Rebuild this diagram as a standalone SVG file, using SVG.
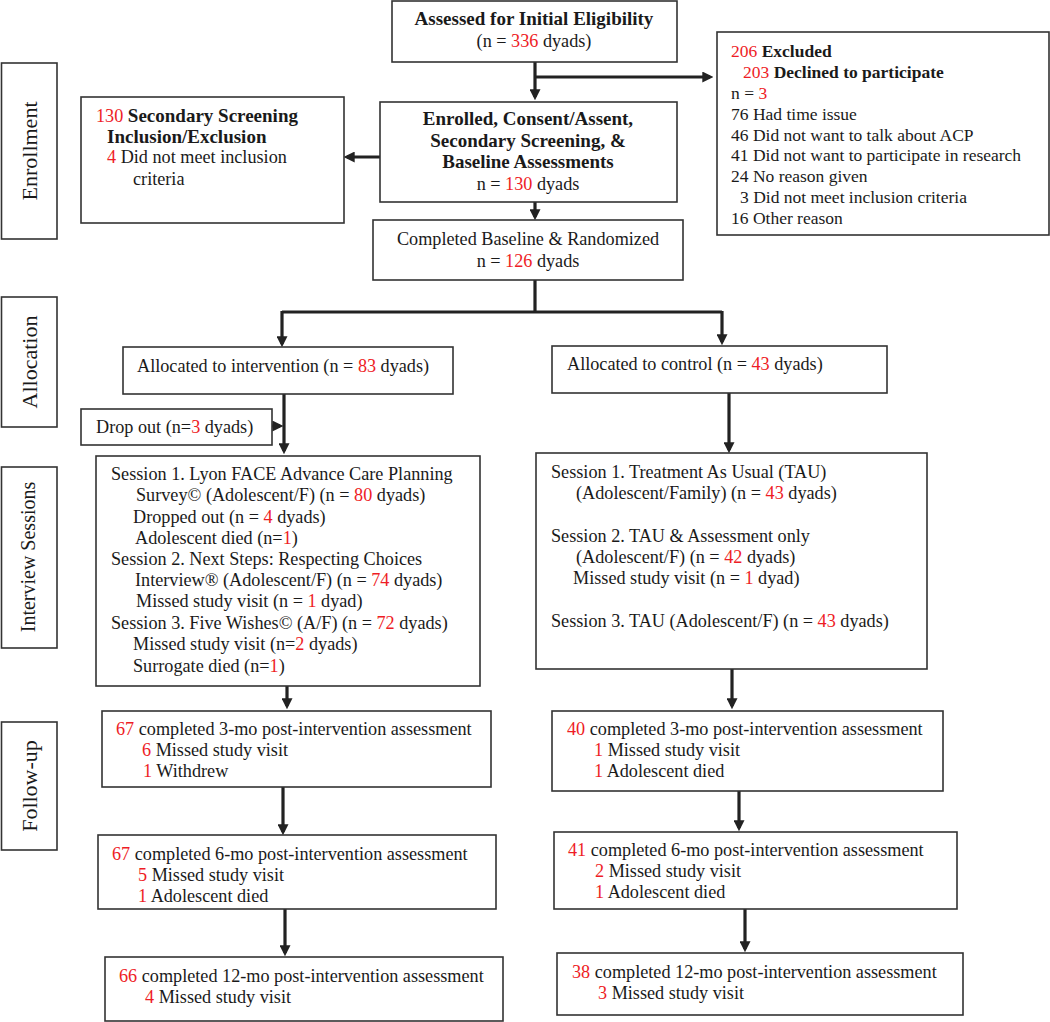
<svg xmlns="http://www.w3.org/2000/svg" width="1050" height="1022" viewBox="0 0 1050 1022">
<style>
text{font-family:"Liberation Serif","Times New Roman",serif;font-size:18.2px;fill:#1a1a1a}
.b{font-weight:bold}
.bb{font-weight:bold;font-size:19px}
.r{fill:#ee1c25}
.box{fill:#fff;stroke:#333;stroke-width:1.6}
.lbl{font-size:22px}
.c{text-anchor:middle}
.con{fill:none;stroke:#222;stroke-width:3.2;stroke-linecap:butt}
.ex{font-size:17.5px}
</style>
<defs>
<marker id="ah" viewBox="0 0 10 10" refX="7" refY="5" markerWidth="11" markerHeight="11" markerUnits="userSpaceOnUse" orient="auto">
<path d="M0,0 L10,5 L0,10 z" fill="#222"/>
</marker>
</defs>
<rect width="1050" height="1022" fill="#fff"/>

<g id="connectors">
<path class="con" d="M535,62 V97" marker-end="url(#ah)"/>
<path class="con" d="M535,77 H710" marker-end="url(#ah)"/>
<path class="con" d="M380,157 H347" marker-end="url(#ah)"/>
<path class="con" d="M535,202 V217" marker-end="url(#ah)"/>
<path class="con" d="M535,280 V312 M282,312 H722"/>
<path class="con" d="M282,311 V344" marker-end="url(#ah)"/>
<path class="con" d="M722,311 V342" marker-end="url(#ah)"/>
<path class="con" d="M284,394 V451" marker-end="url(#ah)"/>
<path class="con" d="M263,426 H280" marker-end="url(#ah)"/>
<path class="con" d="M729,393 V450" marker-end="url(#ah)"/>
<path class="con" d="M287,686 V706" marker-end="url(#ah)"/>
<path class="con" d="M283,787 V832" marker-end="url(#ah)"/>
<path class="con" d="M285,909 V953" marker-end="url(#ah)"/>
<path class="con" d="M732,669 V706" marker-end="url(#ah)"/>
<path class="con" d="M739,791 V828" marker-end="url(#ah)"/>
<path class="con" d="M745,909 V949" marker-end="url(#ah)"/>
</g>

<g id="label-enrollment">
<rect class="box" x="1.5" y="63" width="55.5" height="176"/>
<text class="lbl c" transform="translate(37,151) rotate(-90)">Enrollment</text>
</g>
<g id="label-allocation">
<rect class="box" x="1.5" y="297" width="55.5" height="130"/>
<text class="lbl c" transform="translate(37,362) rotate(-90)">Allocation</text>
</g>
<g id="label-interview">
<rect class="box" x="1.5" y="467" width="55.5" height="181"/>
<text class="lbl c" style="font-size:20px" transform="translate(35,557) rotate(-90)">Interview Sessions</text>
</g>
<g id="label-followup">
<rect class="box" x="1.5" y="722" width="55.5" height="128"/>
<text class="lbl c" transform="translate(37,786) rotate(-90)">Follow-up</text>
</g>

<g id="assessed">
<rect class="box" x="392" y="1" width="285" height="61"/>
<text class="bb c" x="534" y="25">Assessed for Initial Eligibility</text>
<text class="c" x="534" y="47">(n = <tspan class="r">336</tspan> dyads)</text>
</g>

<g id="excluded">
<rect class="box" x="717" y="32" width="332" height="203"/>
<text class="ex" x="731" y="57"><tspan class="r">206</tspan> <tspan class="b">Excluded</tspan></text>
<text class="ex" x="743" y="78"><tspan class="r">203</tspan> <tspan class="b">Declined to participate</tspan></text>
<text class="ex" x="731" y="99">n = <tspan class="r">3</tspan></text>
<text class="ex" x="731" y="120">76 Had time issue</text>
<text class="ex" x="731" y="141">46 Did not want to talk about ACP</text>
<text class="ex" x="731" y="161">41 Did not want to participate in research</text>
<text class="ex" x="731" y="182">24 No reason given</text>
<text class="ex" x="740" y="203">3 Did not meet inclusion criteria</text>
<text class="ex" x="731" y="224">16 Other reason</text>
</g>

<g id="enrolled">
<rect class="box" x="380" y="102" width="297" height="100"/>
<text class="bb c" x="528" y="125">Enrolled, Consent/Assent,</text>
<text class="bb c" x="528" y="147">Secondary Screening, &amp;</text>
<text class="bb c" x="528" y="168">Baseline Assessments</text>
<text class="c" x="528" y="190">n = <tspan class="r">130</tspan> dyads</text>
</g>

<g id="secondary">
<rect class="box" x="81" y="97" width="263" height="126"/>
<text x="96" y="122"><tspan class="r">130</tspan> <tspan class="bb">Secondary Screening</tspan></text>
<text class="bb" x="107" y="143">Inclusion/Exclusion</text>
<text x="107" y="163"><tspan class="r">4</tspan> Did not meet inclusion</text>
<text x="133" y="185">criteria</text>
</g>

<g id="randomized">
<rect class="box" x="373" y="220" width="310" height="60"/>
<text class="c" x="528" y="245">Completed Baseline &amp; Randomized</text>
<text class="c" x="528" y="267">n = <tspan class="r">126</tspan> dyads</text>
</g>

<g id="alloc-intervention">
<rect class="box" x="123" y="347" width="330" height="47"/>
<text x="137" y="372">Allocated to intervention (n = <tspan class="r">83</tspan> dyads)</text>
</g>

<g id="alloc-control">
<rect class="box" x="552" y="346" width="335" height="47"/>
<text x="567" y="370">Allocated to control (n = <tspan class="r">43</tspan> dyads)</text>
</g>

<g id="dropout">
<rect class="box" x="81" y="409" width="191" height="36"/>
<text x="96" y="433">Drop out (n=<tspan class="r">3</tspan> dyads)</text>
</g>

<g id="sessions-intervention">
<rect class="box" x="96" y="456" width="384" height="230"/>
<text x="111" y="480">Session 1. Lyon FACE Advance Care Planning</text>
<text x="136" y="501">Survey© (Adolescent/F) (n = <tspan class="r">80</tspan> dyads)</text>
<text x="133" y="523">Dropped out (n = <tspan class="r">4</tspan> dyads)</text>
<text x="135" y="544">Adolescent died (n=<tspan class="r">1</tspan>)</text>
<text x="111" y="565">Session 2. Next Steps: Respecting Choices</text>
<text x="135" y="586">Interview® (Adolescent/F) (n = <tspan class="r">74</tspan> dyads)</text>
<text x="136" y="607">Missed study visit (n = <tspan class="r">1</tspan> dyad)</text>
<text x="111" y="629">Session 3. Five Wishes© (A/F) (n = <tspan class="r">72</tspan> dyads)</text>
<text x="133" y="650">Missed study visit (n=<tspan class="r">2</tspan> dyads)</text>
<text x="133" y="672">Surrogate died (n=<tspan class="r">1</tspan>)</text>
</g>

<g id="sessions-control">
<rect class="box" x="536" y="453" width="391" height="216"/>
<text x="551" y="478">Session 1. Treatment As Usual (TAU)</text>
<text x="576" y="499">(Adolescent/Family) (n = <tspan class="r">43</tspan> dyads)</text>
<text x="551" y="542">Session 2. TAU &amp; Assessment only</text>
<text x="576" y="563">(Adolescent/F) (n = <tspan class="r">42</tspan> dyads)</text>
<text x="573" y="584">Missed study visit (n = <tspan class="r">1</tspan> dyad)</text>
<text x="551" y="627">Session 3. TAU (Adolescent/F) (n = <tspan class="r">43</tspan> dyads)</text>
</g>

<g id="int-3mo">
<rect class="box" x="102" y="711" width="389" height="76"/>
<text x="116" y="735"><tspan class="r">67</tspan> completed 3-mo post-intervention assessment</text>
<text x="142" y="756"><tspan class="r">6</tspan> Missed study visit</text>
<text x="143" y="777"><tspan class="r">1</tspan> Withdrew</text>
</g>

<g id="int-6mo">
<rect class="box" x="98" y="835" width="398" height="74"/>
<text x="112" y="860"><tspan class="r">67</tspan> completed 6-mo post-intervention assessment</text>
<text x="138" y="881"><tspan class="r">5</tspan> Missed study visit</text>
<text x="138" y="902"><tspan class="r">1</tspan> Adolescent died</text>
</g>

<g id="int-12mo">
<rect class="box" x="105" y="957" width="398" height="64"/>
<text x="119" y="982"><tspan class="r">66</tspan> completed 12-mo post-intervention assessment</text>
<text x="145" y="1003"><tspan class="r">4</tspan> Missed study visit</text>
</g>

<g id="ctl-3mo">
<rect class="box" x="552" y="711" width="391" height="80"/>
<text x="567" y="735"><tspan class="r">40</tspan> completed 3-mo post-intervention assessment</text>
<text x="594" y="756"><tspan class="r">1</tspan> Missed study visit</text>
<text x="594" y="777"><tspan class="r">1</tspan> Adolescent died</text>
</g>

<g id="ctl-6mo">
<rect class="box" x="554" y="832" width="403" height="77"/>
<text x="568" y="856"><tspan class="r">41</tspan> completed 6-mo post-intervention assessment</text>
<text x="595" y="877"><tspan class="r">2</tspan> Missed study visit</text>
<text x="595" y="898"><tspan class="r">1</tspan> Adolescent died</text>
</g>

<g id="ctl-12mo">
<rect class="box" x="557" y="953" width="406" height="62"/>
<text x="572" y="978"><tspan class="r">38</tspan> completed 12-mo post-intervention assessment</text>
<text x="598" y="999"><tspan class="r">3</tspan> Missed study visit</text>
</g>
</svg>
